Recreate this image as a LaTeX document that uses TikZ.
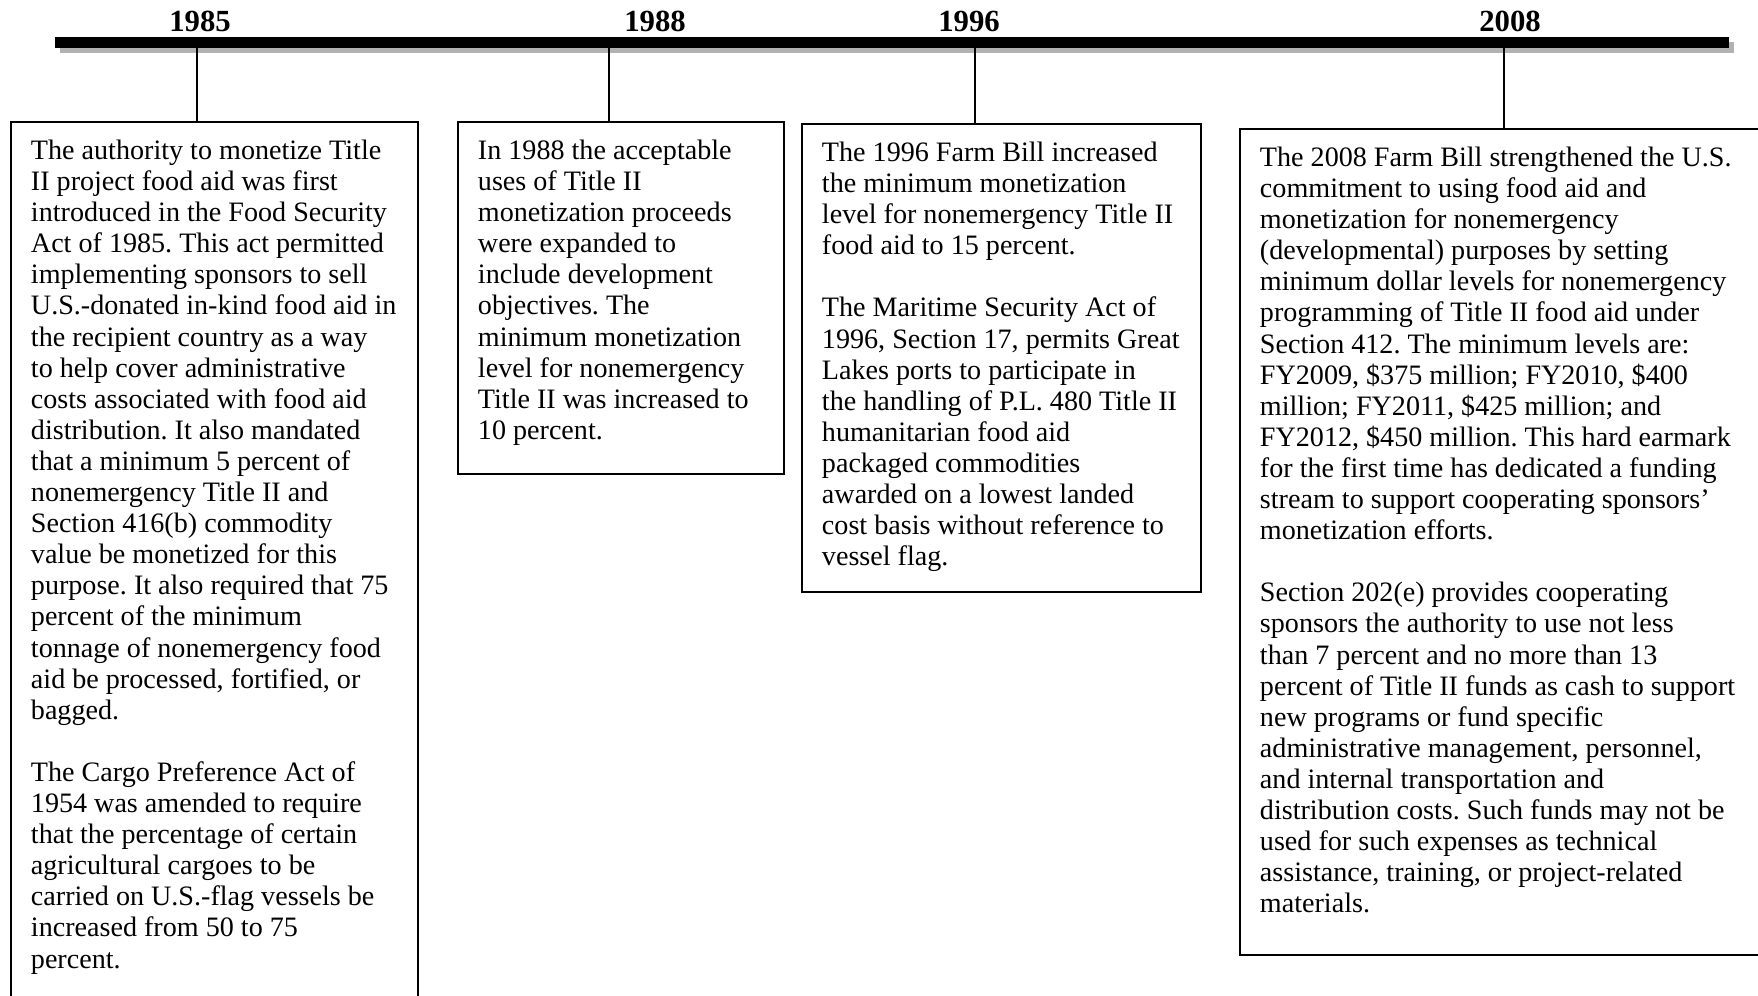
\documentclass[tikz,border=0pt]{standalone}
\usepackage{fontspec}
\setmainfont{Liberation Serif}
\frenchspacing

\begin{document}
\begin{tikzpicture}[
    x=0.02cm, y=-0.02cm,
    every node/.style={font=\fontsize{16}{17.7}\selectfont},
    year/.style={font=\bfseries\fontsize{17.5}{19}\selectfont},
    box/.style={draw=black, line width=1.1pt, anchor=north west, inner xsep=0.4cm, inner ysep=0.36cm},
    stem/.style={draw=black, line width=0.7pt}
]
\useasboundingbox (0,0) rectangle (1758,996);
\clip (0,0) rectangle (1758,996);

% Time line with its shadow
\fill[gray!60] (60,42) rectangle (1734,53);
\fill[black] (55,37) rectangle (1729,48);
\coordinate (t1985) at (197,48);
\coordinate (t1988) at (609,48);
\coordinate (t1996) at (975,48);
\coordinate (t2008) at (1504,48);

% Years
\node[year] (y1985) at (200,21) {1985};
\node[year] (y1988) at (655,21) {1988};
\node[year] (y1996) at (969,21) {1996};
\node[year] (y2008) at (1510,21) {2008};

% 1985
\node[box] (b1985) at (10,121) {\parbox[t][17.06cm][t]{7.34cm}{\raggedright
The authority to monetize Title\\
II project food aid was first\\
introduced in the Food Security\\
Act of 1985. This act permitted\\
implementing sponsors to sell\\
U.S.-donated in-kind food aid in\\
the recipient country as a way\\
to help cover administrative\\
costs associated with food aid\\
distribution. It also mandated\\
that a minimum 5 percent of\\
nonemergency Title II and\\
Section 416(b) commodity\\
value be monetized for this\\
purpose. It also required that 75\\
percent of the minimum\\
tonnage of nonemergency food\\
aid be processed, fortified, or\\
bagged.\\[17.7pt]
The Cargo Preference Act of\\
1954 was amended to require\\
that the percentage of certain\\
agricultural cargoes to be\\
carried on U.S.-flag vessels be\\
increased from 50 to 75\\
percent.}};
\draw[stem] (t1985) -- (t1985 |- b1985.north);

% 1988
\node[box] (b1988) at (457,121) {\parbox[t][6.32cm][t]{5.72cm}{\raggedright
In 1988 the acceptable\\
uses of Title II\\
monetization proceeds\\
were expanded to\\
include development\\
objectives. The\\
minimum monetization\\
level for nonemergency\\
Title II was increased to\\
10 percent.}};
\draw[stem] (t1988) -- (t1988 |- b1988.north);

% 1996
\node[box] (b1996) at (801,123) {\parbox[t][8.64cm][t]{7.18cm}{\raggedright
The 1996 Farm Bill increased\\
the minimum monetization\\
level for nonemergency Title II\\
food aid to 15 percent.\\[17.7pt]
The Maritime Security Act of\\
1996, Section 17, permits Great\\
Lakes ports to participate in\\
the handling of P.L. 480 Title II\\
humanitarian food aid\\
packaged commodities\\
awarded on a lowest landed\\
cost basis without reference to\\
vessel flag.}};
\draw[stem] (t1996) -- (t1996 |- b1996.north);

% 2008
\node[box] (b2008) at (1239,128) {\parbox[t][15.8cm][t]{10.22cm}{\raggedright
The 2008 Farm Bill strengthened the U.S.\\
commitment to using food aid and\\
monetization for nonemergency\\
(developmental) purposes by setting\\
minimum dollar levels for nonemergency\\
programming of Title II food aid under\\
Section 412. The minimum levels are:\\
FY2009, \$375 million; FY2010, \$400\\
million; FY2011, \$425 million; and\\
FY2012, \$450 million. This hard earmark\\
for the first time has dedicated a funding\\
stream to support cooperating sponsors’\\
monetization efforts.\\[17.7pt]
Section 202(e) provides cooperating\\
sponsors the authority to use not less\\
than 7 percent and no more than 13\\
percent of Title II funds as cash to support\\
new programs or fund specific\\
administrative management, personnel,\\
and internal transportation and\\
distribution costs. Such funds may not be\\
used for such expenses as technical\\
assistance, training, or project-related\\
materials.}};
\draw[stem] (t2008) -- (t2008 |- b2008.north);

\end{tikzpicture}
\end{document}
